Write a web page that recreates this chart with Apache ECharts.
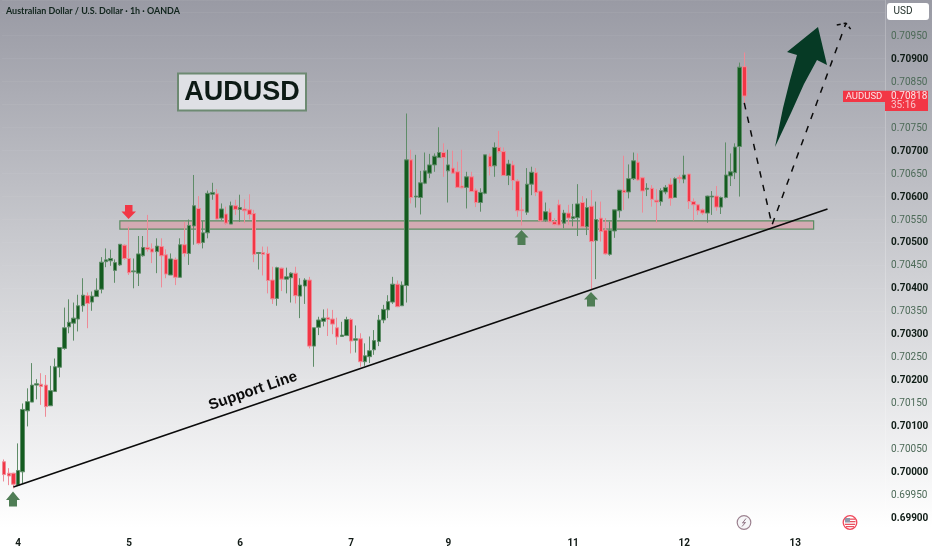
<!DOCTYPE html>
<html><head><meta charset="utf-8">
<style>html,body{margin:0;padding:0;background:#fff}#c{width:932px;height:550px}</style>
<script src="https://cdn.jsdelivr.net/npm/echarts@6/dist/echarts.min.js"></script>
</head><body><div id="c"></div>
<script>
const opens=[0.69994,0.70021,0.69996,0.69996,0.69970,0.69999,0.70132,0.70151,0.70188,0.70190,
0.70188,0.70143,0.70174,0.70227,0.70268,0.70315,0.70323,0.70332,0.70361,0.70383,
0.70369,0.70381,0.70397,0.70457,0.70459,0.70438,0.70450,0.70493,0.70464,0.70435,
0.70432,0.70470,0.70488,0.70485,0.70479,0.70490,0.70472,0.70428,0.70462,0.70423,
0.70494,0.70475,0.70535,0.70573,0.70499,0.70520,0.70604,0.70605,0.70552,0.70561,
0.70539,0.70579,0.70571,0.70572,0.70570,0.70562,0.70475,0.70477,0.70475,0.70417,
0.70377,0.70443,0.70419,0.70422,0.70432,0.70382,0.70404,0.70417,0.70273,0.70314,
0.70327,0.70335,0.70332,0.70313,0.70294,0.70296,0.70331,0.70286,0.70289,0.70239,
0.70250,0.70265,0.70283,0.70330,0.70352,0.70369,0.70408,0.70361,0.70405,0.70679,
0.70598,0.70597,0.70628,0.70650,0.70668,0.70684,0.70695,0.70655,0.70661,0.70653,
0.70622,0.70619,0.70642,0.70613,0.70586,0.70606,0.70687,0.70666,0.70706,0.70697,
0.70645,0.70668,0.70633,0.70570,0.70565,0.70626,0.70651,0.70611,0.70548,0.70565,
0.70544,0.70581,0.70541,0.70563,0.70551,0.70553,0.70586,0.70533,0.70578,0.70503,
0.70552,0.70526,0.70473,0.70524,0.70568,0.70613,0.70609,0.70638,0.70674,0.70640,
0.70615,0.70617,0.70591,0.70588,0.70609,0.70626,0.70597,0.70641,0.70637,0.70648,
0.70588,0.70581,0.70570,0.70563,0.70598,0.70600,0.70576,0.70597,0.70644,0.70651,
0.70708,0.70882];
const closes=[0.70007,0.69993,0.69990,0.69972,0.70002,0.70135,0.70152,0.70188,0.70191,0.70185,
0.70141,0.70176,0.70228,0.70270,0.70313,0.70325,0.70334,0.70361,0.70384,0.70366,
0.70382,0.70395,0.70456,0.70461,0.70464,0.70455,0.70495,0.70464,0.70433,0.70437,
0.70474,0.70488,0.70484,0.70478,0.70491,0.70470,0.70430,0.70463,0.70423,0.70494,
0.70475,0.70536,0.70579,0.70497,0.70520,0.70606,0.70608,0.70550,0.70572,0.70541,
0.70579,0.70571,0.70575,0.70568,0.70560,0.70473,0.70477,0.70473,0.70416,0.70376,
0.70444,0.70419,0.70424,0.70432,0.70383,0.70406,0.70417,0.70273,0.70313,0.70330,
0.70334,0.70331,0.70321,0.70293,0.70297,0.70331,0.70284,0.70289,0.70239,0.70252,
0.70263,0.70285,0.70330,0.70353,0.70370,0.70408,0.70359,0.70406,0.70679,0.70597,
0.70600,0.70629,0.70655,0.70668,0.70687,0.70695,0.70684,0.70668,0.70650,0.70619,
0.70618,0.70642,0.70610,0.70586,0.70608,0.70690,0.70664,0.70706,0.70697,0.70645,
0.70670,0.70634,0.70568,0.70568,0.70626,0.70652,0.70608,0.70546,0.70566,0.70544,
0.70538,0.70537,0.70563,0.70552,0.70555,0.70583,0.70533,0.70575,0.70501,0.70549,
0.70523,0.70474,0.70525,0.70570,0.70613,0.70608,0.70638,0.70677,0.70635,0.70611,
0.70617,0.70593,0.70587,0.70612,0.70619,0.70595,0.70638,0.70638,0.70646,0.70588,
0.70581,0.70568,0.70563,0.70600,0.70600,0.70576,0.70597,0.70646,0.70653,0.70707,
0.70881,0.70818];
const lows=[0.69992,0.69978,0.69970,0.69963,0.69968,0.69974,0.70098,0.70151,0.70157,0.70145,
0.70119,0.70143,0.70174,0.70205,0.70265,0.70301,0.70285,0.70305,0.70348,0.70312,
0.70350,0.70381,0.70388,0.70445,0.70448,0.70411,0.70448,0.70461,0.70428,0.70399,
0.70404,0.70468,0.70479,0.70454,0.70432,0.70401,0.70421,0.70428,0.70406,0.70423,
0.70468,0.70450,0.70494,0.70494,0.70486,0.70508,0.70592,0.70549,0.70548,0.70537,
0.70539,0.70559,0.70544,0.70541,0.70549,0.70456,0.70440,0.70427,0.70388,0.70365,
0.70361,0.70393,0.70388,0.70368,0.70366,0.70334,0.70365,0.70268,0.70228,0.70297,
0.70316,0.70295,0.70299,0.70276,0.70294,0.70295,0.70257,0.70259,0.70228,0.70230,
0.70236,0.70254,0.70273,0.70323,0.70334,0.70365,0.70358,0.70361,0.70368,0.70584,
0.70575,0.70560,0.70626,0.70639,0.70653,0.70684,0.70642,0.70586,0.70650,0.70618,
0.70617,0.70573,0.70610,0.70576,0.70566,0.70604,0.70645,0.70642,0.70693,0.70645,
0.70624,0.70613,0.70555,0.70536,0.70559,0.70602,0.70600,0.70544,0.70544,0.70542,
0.70536,0.70536,0.70530,0.70537,0.70534,0.70513,0.70532,0.70515,0.70395,0.70419,
0.70501,0.70472,0.70470,0.70509,0.70553,0.70570,0.70595,0.70635,0.70633,0.70564,
0.70600,0.70577,0.70542,0.70579,0.70604,0.70579,0.70597,0.70628,0.70628,0.70572,
0.70547,0.70559,0.70559,0.70542,0.70559,0.70568,0.70561,0.70595,0.70622,0.70637,
0.70599,0.70799];
const highs=[0.70010,0.70026,0.70007,0.69997,0.70061,0.70148,0.70181,0.70236,0.70201,0.70214,
0.70210,0.70230,0.70246,0.70270,0.70357,0.70375,0.70368,0.70385,0.70421,0.70390,
0.70392,0.70421,0.70467,0.70486,0.70483,0.70462,0.70495,0.70495,0.70533,0.70464,
0.70513,0.70513,0.70559,0.70497,0.70508,0.70508,0.70484,0.70475,0.70466,0.70508,
0.70544,0.70549,0.70646,0.70600,0.70546,0.70612,0.70629,0.70615,0.70584,0.70577,
0.70588,0.70592,0.70603,0.70593,0.70604,0.70570,0.70477,0.70490,0.70490,0.70446,
0.70446,0.70444,0.70444,0.70434,0.70446,0.70421,0.70421,0.70424,0.70313,0.70337,
0.70353,0.70355,0.70352,0.70335,0.70326,0.70337,0.70334,0.70318,0.70301,0.70279,
0.70294,0.70308,0.70341,0.70363,0.70384,0.70424,0.70416,0.70414,0.70780,0.70701,
0.70690,0.70655,0.70695,0.70692,0.70693,0.70750,0.70715,0.70701,0.70699,0.70675,
0.70701,0.70653,0.70653,0.70617,0.70617,0.70690,0.70693,0.70717,0.70742,0.70706,
0.70679,0.70677,0.70637,0.70597,0.70661,0.70664,0.70661,0.70613,0.70586,0.70573,
0.70552,0.70592,0.70570,0.70581,0.70583,0.70626,0.70600,0.70595,0.70613,0.70588,
0.70588,0.70552,0.70544,0.70570,0.70613,0.70688,0.70669,0.70695,0.70693,0.70642,
0.70628,0.70624,0.70615,0.70617,0.70624,0.70639,0.70641,0.70646,0.70688,0.70648,
0.70595,0.70583,0.70573,0.70601,0.70611,0.70622,0.70599,0.70717,0.70693,0.70715,
0.70891,0.70913];
const tickIndexes=[4,28,52,76,97,124,148,172];
const tickLabels=['4','5','6','7','9','11','12','13'];
const categoryCount=192;
const zoneLow=0.70528, zoneHigh=0.70546, zoneFrom=26, zoneTo=176;
const supportLine=[[3,0.69966],[179,0.70572]];
const projectionLine=[[161,0.70803],[167,0.70537],[183,0.70977]];
const projectionHook=[[181,0.70973],[183,0.70977],[184,0.70964]];
const lastPrice='0.70818', countdown='35:16';

const categories=Array.from({length:categoryCount},(_,i)=>String(i));
const candles=opens.map((o,i)=>[o,closes[i],lows[i],highs[i]]);
const labelFor=i=>{const k=tickIndexes.indexOf(+i);return k<0?'':tickLabels[k]};
const chart=echarts.init(document.getElementById('c'),null,{renderer:'canvas'});
const sans='"Liberation Sans",Arial,sans-serif', ui='Roboto,"Open Sans",sans-serif';
const upArrow=(cx,tip,wing,bottom,hw,sw,col)=>({type:'polygon',z:60,silent:true,
  shape:{points:[[cx,tip],[cx+hw,wing],[cx+sw,wing],[cx+sw,bottom],[cx-sw,bottom],[cx-sw,wing],[cx-hw,wing]]},
  style:{fill:col}});
const gr='#4f7d55';
chart.setOption({
  animation:false,
  backgroundColor:new echarts.graphic.LinearGradient(0,0,0,1,[
    {offset:0,color:'#999aa4'},{offset:0.5,color:'#cfd0d4'},{offset:0.96,color:'#ffffff'},{offset:1,color:'#ffffff'}]),
  grid:{left:1.92,top:0,width:883.4,height:540.2,containLabel:false},
  xAxis:{type:'category',data:categories,boundaryGap:true,min:1,
    axisLine:{show:false},axisTick:{show:false},
    splitLine:{show:false},
    axisLabel:{show:true,interval:0,margin:-1.5,formatter:v=>labelFor(v),color:'#111a16',fontFamily:ui,fontWeight:700,fontSize:10}},
  yAxis:{type:'value',position:'right',min:0.6985,max:0.710274,interval:0.0005,scale:true,
    axisLine:{show:true,lineStyle:{color:'rgba(255,255,255,0.22)',width:1}},axisTick:{show:false},
    splitLine:{show:true,lineStyle:{color:'rgba(255,255,255,0.05)'}},
    axisLabel:{margin:5.7,showMaxLabel:false,fontFamily:ui,fontSize:10,
      formatter:v=>{
        const n=Math.round(v*1e5);
        if(n<69900||n>70950||n===70800) return '';
        const s=(n/1e5).toFixed(5);
        return n%100===0?'{b|'+s+'}':'{d|'+s+'}';
      },
      rich:{b:{fontFamily:ui,fontSize:10,fontWeight:700,color:'#0f1c16',padding:[2,0,0,0]},d:{fontFamily:ui,fontSize:10,color:'#4d6a58',padding:[2,0,0,0]}}}},
  series:[
    {type:'candlestick',data:candles,barWidth:4,silent:true,z:3,
      itemStyle:{color:'#145c20',color0:'#f23645',borderColor:'#5f8c68',borderColor0:'#ee8a96',borderWidth:1},
      markArea:{silent:true,z:1,itemStyle:{color:'rgba(222,150,160,0.58)',borderColor:'#5b8c62',borderWidth:1.2},
        data:[[{xAxis:zoneFrom,yAxis:zoneHigh},{xAxis:zoneTo,yAxis:zoneLow}]]}},
    {type:'line',data:supportLine,symbol:'none',silent:true,z:5,lineStyle:{color:'#0b0b0b',width:1.7}},
    {type:'line',data:projectionLine,symbol:'none',silent:true,z:5,lineStyle:{color:'#0b0b0b',width:1.5,type:[6.5,7.5]}},
    {type:'line',data:projectionHook,symbol:'none',silent:true,z:5,lineStyle:{color:'#0b0b0b',width:1.5,type:[4,3]}}
  ],
  graphic:{elements:[
    {type:'text',x:6,y:11,z:60,silent:true,style:{text:'Australian Dollar / U.S. Dollar · 1h · OANDA',font:'700 8.95px Lato,sans-serif',fill:'#10241c',textVerticalAlign:'middle'}},
    {type:'rect',z:60,silent:true,shape:{x:178,y:73.5,width:128,height:37},style:{fill:'#dfe0e5',stroke:'#6d8a72',lineWidth:2}},
    {type:'text',x:242,y:93,z:61,silent:true,style:{text:'AUDUSD',font:'700 27px '+sans,fill:'#0d1a15',textAlign:'center',textVerticalAlign:'middle'}},
    {type:'text',x:253,y:391,rotation:0.33,z:61,silent:true,style:{text:'Support Line',font:'700 15px '+sans,fill:'#0b0b0b',textAlign:'center',textVerticalAlign:'middle'}},
    {type:'polygon',z:58,silent:true,shape:{points:[[128.5,219],[136,211.5],[132.5,211.5],[132.5,205],[125,205],[125,211.5],[121.5,211.5]]},style:{fill:'#f23645'}},
    upArrow(13,491.5,500,506.5,7,4,gr),
    upArrow(521.5,230,237.5,245,7,4,gr),
    upArrow(591,292,299.5,306.5,7,4,gr),
    {type:'polygon',z:59,silent:true,shape:{points:[[818,27],[787,52],[797,55],[790,80],[783,108],[775,147],[791,113],[804,84],[817,60],[827,65]]},style:{fill:'#063a25'}},
    {type:'rect',z:60,silent:true,shape:{x:887,y:3,width:42,height:17,r:3},style:{fill:'#ffffff'}},
    {type:'text',x:893.5,y:11.5,z:61,silent:true,style:{text:'USD',font:'10px '+ui,fill:'#1c2a24',textVerticalAlign:'middle'}},
    {type:'rect',z:60,silent:true,shape:{x:843,y:90.7,width:42,height:11.3},style:{fill:'#f23645'}},
    {type:'text',x:864,y:96.5,z:61,silent:true,style:{text:'AUDUSD',font:'9.5px '+ui,fill:'#fbe3e6',textAlign:'center',textVerticalAlign:'middle'}},
    {type:'rect',z:60,silent:true,shape:{x:885,y:90.7,width:43,height:20.3},style:{fill:'#f23645'}},
    {type:'text',x:891,y:96.5,z:61,silent:true,style:{text:lastPrice,font:'10px '+ui,fill:'#fbe3e6',textVerticalAlign:'middle'}},
    {type:'text',x:891,y:105.5,z:61,silent:true,style:{text:countdown,font:'10px '+ui,fill:'#f9c4ca',textVerticalAlign:'middle'}},
    {type:'circle',z:60,silent:true,shape:{cx:744,cy:522.5,r:6.8},style:{fill:'#f6f6f8',stroke:'#9c8290',lineWidth:1.2}},
    {type:'polyline',z:61,silent:true,shape:{points:[[746,518.5],[742.5,523],[745.5,522.5],[742,526.5]]},style:{fill:'none',stroke:'#8e7383',lineWidth:1}},
    {type:'circle',z:60,silent:true,shape:{cx:850,cy:522.5,r:6.8},style:{fill:'#ffffff',stroke:'#f0475a',lineWidth:1.3}},
    {type:'rect',z:61,silent:true,shape:{x:845,y:518,width:5,height:4.5},style:{fill:'#8f97a8'}},
    {type:'rect',z:61,silent:true,shape:{x:850,y:518.5,width:5,height:1.3},style:{fill:'#e8505f'}},
    {type:'rect',z:61,silent:true,shape:{x:850,y:521,width:5.5,height:1.3},style:{fill:'#e8505f'}},
    {type:'rect',z:61,silent:true,shape:{x:844.8,y:523.7,width:10.4,height:1.3},style:{fill:'#e8505f'}},
    {type:'rect',z:61,silent:true,shape:{x:846,y:526,width:8,height:1.2},style:{fill:'#e8505f'}}
  ]}
});
</script></body></html>
